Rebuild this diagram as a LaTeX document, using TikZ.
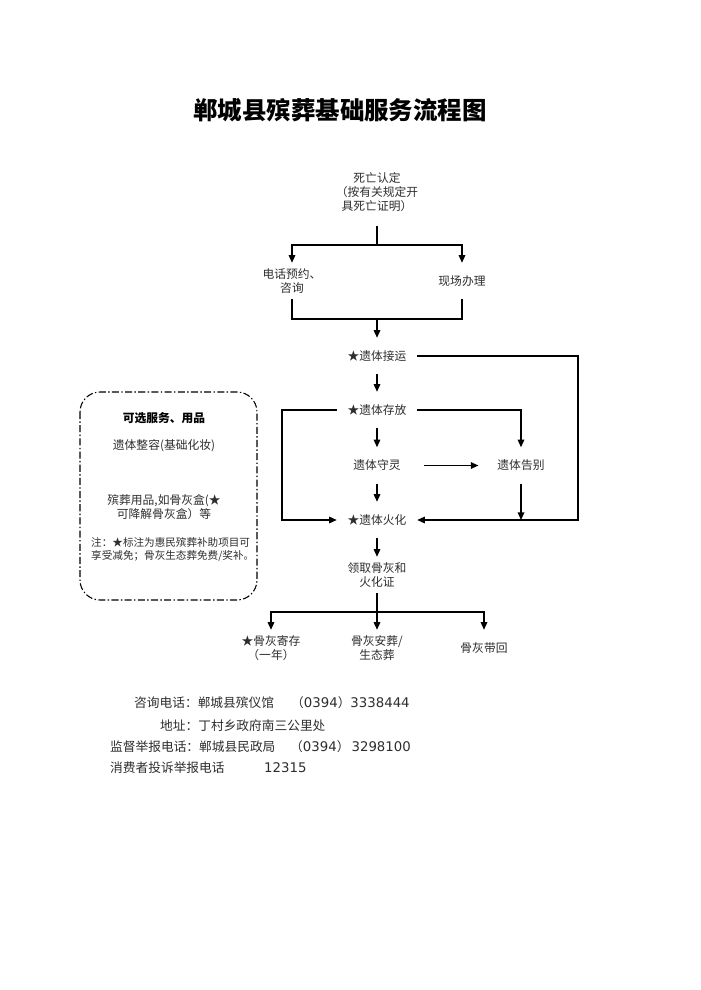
\documentclass[tikz,border=0pt]{standalone}
\usepackage{fontspec}
\setmainfont{Noto Sans CJK SC}
\newfontfamily\dv{DejaVu Sans}
\usetikzlibrary{arrows.meta}
\definecolor{txtc}{RGB}{45,45,45}
\begin{document}
\begin{tikzpicture}[x=0.85pt,y=-0.85pt,
  lbl/.style={font=\fontsize{10pt}{11.9pt}\selectfont, text=txtc, align=center,
    inner xsep=9pt, inner ysep=0pt, minimum height=30.6pt},
  boxtxt/.style={font=\fontsize{10pt}{12.5pt}\selectfont, text=txtc, align=center, inner sep=0pt},
  btm/.style={font=\fontsize{10.8pt}{12pt}\selectfont, text=txtc, inner sep=0pt, anchor=west},
  dig/.style={font=\fontsize{11.3pt}{12pt}\selectfont\dv},
  conn/.style={line width=1.15pt, line join=miter},
  arr/.style={conn, -{Triangle[length=6.5pt,width=5.6pt]}}]
\useasboundingbox (0,0) rectangle (700,990);

% title
\node[font=\fontsize{20.8pt}{24pt}\selectfont\bfseries, inner sep=0pt] (title) at (340,110) {郸城县殡葬基础服务流程图};

% flow nodes
\node[lbl, inner ysep=12pt] (death) at (377,192) {死亡认定\\（按有关规定开\\具死亡证明）};
\coordinate (s1) at (377,245);
\node[lbl] (phone) at (292,281) {电话预约、\\咨询};
\node[lbl] (onsite) at (462,281) {现场办理};
\coordinate (j2) at (377,319);
\node[lbl] (jieyun) at (377,356) {★遗体接运};
\node[lbl] (cunfang) at (377,410) {★遗体存放};
\node[lbl] (shouling) at (377,465.5) {遗体守灵};
\node[lbl] (gaobie) at (521,465.5) {遗体告别};
\node[lbl] (huohua) at (377,520) {★遗体火化};
\node[lbl] (lingqu) at (377,575) {领取骨灰和\\火化证};
\coordinate (j3) at (377,612);
\node[lbl] (jicun) at (271,648) {★骨灰寄存\\（一年）};
\node[lbl] (anzang) at (377,648) {骨灰安葬/\\生态葬};
\node[lbl] (daihui) at (484,648) {骨灰带回};
\coordinate (R) at (578,356);
\coordinate (L) at (282,410);

% connectors
\draw[conn] (death.south) -- (s1);
\draw[arr] (s1) -| (phone.north);
\draw[arr] (s1) -| (onsite.north);
\draw[conn] (phone.south) -- (phone.south |- j2) -- (onsite.south |- j2) -- (onsite.south);
\draw[arr] (j2) -- (jieyun.north);
\draw[arr] (jieyun.south) -- (cunfang.north);
\draw[arr] (cunfang.south) -- (shouling.north);
\draw[arr] (shouling.south) -- (huohua.north);
\draw[arr] (jieyun.east) -- (jieyun.east -| R) -- (R |- huohua.east) -- (huohua.east);
\draw[arr] (cunfang.west) -- (cunfang.west -| L) -- (L |- huohua.west) -- (huohua.west);
\draw[arr] (cunfang.east) -| (gaobie.north);
\draw[arr] ([xshift=11pt]shouling.east) -- ([xshift=-7pt]gaobie.west);
\draw[arr] (gaobie.south) -- (gaobie.south |- huohua.east);
\draw[arr] (huohua.south) -- (lingqu.north);
\draw[conn] (lingqu.south) -- (j3);
\draw[arr] (j3) -| (jicun.north);
\draw[arr] (j3) -- (anzang.north);
\draw[arr] (j3) -| (daihui.north);

% optional services box
\draw[line width=0.9pt, dash pattern=on 6pt off 2pt on 1.2pt off 2pt, rounded corners=17pt]
  (80,392) rectangle (257,600);
\node[boxtxt, font=\fontsize{10pt}{12pt}\selectfont\bfseries, text=black] (opt) at (164,418) {可选服务、用品};
\node[boxtxt] (zr) at (164,446) {遗体整容(基础化妆)};
\node[boxtxt] (yp) at (164,507) {殡葬用品,如骨灰盒(★\\可降解骨灰盒）等};
\node[boxtxt, font=\fontsize{9pt}{11pt}\selectfont, align=left, anchor=west] (note) at (91,549.5)
  {注：★标注为惠民殡葬补助项目可\\享受减免；骨灰生态葬免费/奖补。};

% bottom info
\node[btm] (c1) at (134,703) {咨询电话：郸城县殡仪馆};
\node[btm] (c1n) at (291,703) {（{\dv\fontsize{11.3pt}{12pt}\selectfont 0394}）{\dv\fontsize{11.3pt}{12pt}\selectfont 3338444}};
\node[btm] (addr) at (160,726) {地址：丁村乡政府南三公里处};
\node[btm] (sup) at (110,747) {监督举报电话：郸城县民政局};
\node[btm] (supn) at (290,747) {（{\dv\fontsize{11.3pt}{12pt}\selectfont 0394}）\,{\dv\fontsize{11.3pt}{12pt}\selectfont 3298100}};
\node[btm] (cons) at (110,768) {消费者投诉举报电话};
\node[btm] (consn) at (264,768) {\dv\fontsize{11.3pt}{12pt}\selectfont 12315};
\end{tikzpicture}
\end{document}
